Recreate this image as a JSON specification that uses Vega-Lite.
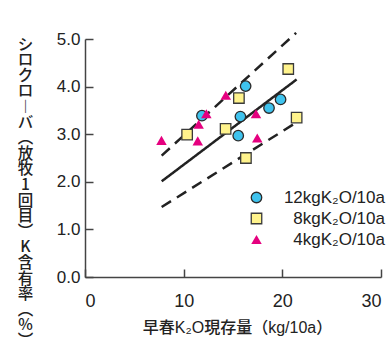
{
  "$schema": "https://vega.github.io/schema/vega-lite/v6.json",
  "width": 296,
  "height": 238,
  "autosize": {"type": "none"},
  "padding": {"left": 85, "top": 39, "right": 11, "bottom": 77},
  "background": "white",
  "config": {
    "view": {"stroke": null},
    "font": "Liberation Sans",
    "axis": {"grid": false, "domainColor": "#444", "tickColor": "#444", "domainWidth": 1.5, "tickWidth": 1.5, "labelColor": "#222", "titleColor": "#222", "labelFont": "Liberation Sans"},
    "legend": {"orient": "none", "legendX": 163, "legendY": 150, "padding": 0, "labelAlign": "right", "labelFontSize": 17, "labelColor": "#222", "labelFont": "Liberation Sans", "symbolSize": 110, "rowPadding": 3, "labelOffset": 120, "symbolStrokeWidth": 1.3}
  },
  "datasets": {
    "pts": [
      {"x": 16.28, "y": 4.01, "g": "12kgK₂O/10a"},
      {"x": 11.85, "y": 3.39, "g": "12kgK₂O/10a"},
      {"x": 15.75, "y": 3.37, "g": "12kgK₂O/10a"},
      {"x": 18.65, "y": 3.55, "g": "12kgK₂O/10a"},
      {"x": 19.82, "y": 3.73, "g": "12kgK₂O/10a"},
      {"x": 15.53, "y": 2.97, "g": "12kgK₂O/10a"},
      {"x": 20.6, "y": 4.37, "g": "8kgK₂O/10a"},
      {"x": 15.6, "y": 3.76, "g": "8kgK₂O/10a"},
      {"x": 10.35, "y": 2.99, "g": "8kgK₂O/10a"},
      {"x": 14.25, "y": 3.11, "g": "8kgK₂O/10a"},
      {"x": 21.45, "y": 3.35, "g": "8kgK₂O/10a"},
      {"x": 16.31, "y": 2.5, "g": "8kgK₂O/10a"},
      {"x": 7.75, "y": 2.87, "g": "4kgK₂O/10a"},
      {"x": 11.43, "y": 2.86, "g": "4kgK₂O/10a"},
      {"x": 11.52, "y": 3.21, "g": "4kgK₂O/10a"},
      {"x": 12.3, "y": 3.43, "g": "4kgK₂O/10a"},
      {"x": 14.27, "y": 3.82, "g": "4kgK₂O/10a"},
      {"x": 17.33, "y": 3.43, "g": "4kgK₂O/10a"},
      {"x": 17.46, "y": 2.92, "g": "4kgK₂O/10a"}
    ],
    "lines": [
      {"x": 7.77, "y": 2.55, "l": "upper"},
      {"x": 21.4, "y": 5.13, "l": "upper"},
      {"x": 7.77, "y": 2.01, "l": "fit"},
      {"x": 21.45, "y": 4.15, "l": "fit"},
      {"x": 7.77, "y": 1.47, "l": "lower"},
      {"x": 21.45, "y": 3.25, "l": "lower"}
    ]
  },
  "layer": [
    {
      "data": {"name": "lines"},
      "mark": {"type": "line", "color": "#222", "strokeWidth": 2.5},
      "encoding": {
        "x": {"field": "x", "type": "quantitative", "scale": {"domain": [0, 30]},
          "axis": {"values": [0, 10, 20, 30], "tickSize": -8, "labelPadding": 23, "labelFontSize": 18,
            "title": "早春K₂O現存量（kg/10a）", "titleFont": "Liberation Sans, Noto Sans CJK JP", "titleFontSize": 16, "titleFontWeight": 500,
            "titleX": 152, "titleY": 50, "titleBaseline": "middle"}},
        "y": {"field": "y", "type": "quantitative", "scale": {"domain": [0, 5]},
          "axis": {"values": [0, 1, 2, 3, 4, 5], "format": ".1f", "tickSize": -8, "labelPadding": 13, "labelFontSize": 17,
            "title": ["シ","ロ","ク","ロ","︱","バ","︵","放","牧","1","回","目","︶","K","含","有","率","︵","%","︶"],
            "titleFont": "Noto Sans CJK JP", "titleFontSize": 15.5, "titleFontWeight": 500, "titleLineHeight": 15.6,
            "titleAngle": 0, "titleAlign": "center", "titleBaseline": "top", "titleX": -60, "titleY": -2}},
        "detail": {"field": "l"},
        "strokeDash": {"field": "l", "type": "nominal", "scale": {"domain": ["fit", "upper", "lower"], "range": [[1, 0], [11, 7], [11, 7]]}, "legend": null}
      }
    },
    {
      "data": {"name": "pts"},
      "mark": {"type": "point", "filled": true, "opacity": 1, "strokeWidth": 1.3, "size": 110},
      "encoding": {
        "x": {"field": "x", "type": "quantitative"},
        "y": {"field": "y", "type": "quantitative"},
        "shape": {"field": "g", "type": "nominal", "title": null,
          "scale": {"domain": ["12kgK₂O/10a", "8kgK₂O/10a", "4kgK₂O/10a"], "range": ["circle", "square", "triangle-up"]}},
        "fill": {"field": "g", "type": "nominal", "title": null,
          "scale": {"domain": ["12kgK₂O/10a", "8kgK₂O/10a", "4kgK₂O/10a"], "range": ["#3fc3ee", "#fff38c", "#e5007f"]}},
        "stroke": {"field": "g", "type": "nominal", "title": null,
          "scale": {"domain": ["12kgK₂O/10a", "8kgK₂O/10a", "4kgK₂O/10a"], "range": ["#2a2a2a", "#3a3a3a", "rgba(0,0,0,0)"]}}
      }
    }
  ]
}
